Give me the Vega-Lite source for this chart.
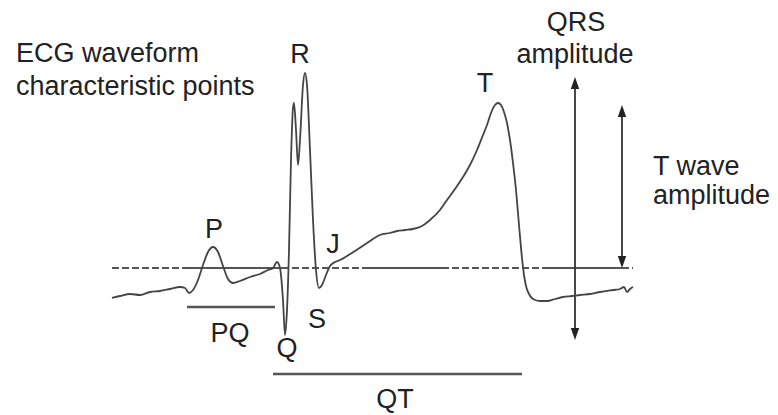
{
  "$schema": "https://vega.github.io/schema/vega-lite/v6.json",
  "width": 778,
  "height": 415,
  "autosize": {"type": "fit", "contains": "padding"},
  "padding": 0,
  "background": "white",
  "config": {"view": {"stroke": null}},
  "datasets": {
    "ecg": [
      {"t": 112, "amp": -30}, {"t": 120, "amp": -28}, {"t": 130, "amp": -26}, {"t": 140, "amp": -27},
      {"t": 150, "amp": -24}, {"t": 160, "amp": -23}, {"t": 170, "amp": -21}, {"t": 180, "amp": -19},
      {"t": 185, "amp": -20}, {"t": 189, "amp": -25}, {"t": 193, "amp": -22}, {"t": 198, "amp": -12},
      {"t": 203, "amp": 3}, {"t": 208, "amp": 16}, {"t": 213, "amp": 21}, {"t": 218, "amp": 16},
      {"t": 223, "amp": 2}, {"t": 228, "amp": -11}, {"t": 233, "amp": -15}, {"t": 240, "amp": -13},
      {"t": 250, "amp": -9}, {"t": 260, "amp": -6}, {"t": 268, "amp": -2}, {"t": 273, "amp": 0},
      {"t": 277, "amp": 6}, {"t": 280, "amp": 0}, {"t": 283, "amp": -32}, {"t": 285, "amp": -67},
      {"t": 287, "amp": -42}, {"t": 289, "amp": 18}, {"t": 291, "amp": 108}, {"t": 293, "amp": 160},
      {"t": 294, "amp": 165}, {"t": 296, "amp": 138}, {"t": 298, "amp": 103}, {"t": 300, "amp": 128},
      {"t": 303, "amp": 183}, {"t": 305, "amp": 195}, {"t": 307, "amp": 183}, {"t": 310, "amp": 118},
      {"t": 313, "amp": 48}, {"t": 316, "amp": -2}, {"t": 319, "amp": -20}, {"t": 322, "amp": -17},
      {"t": 326, "amp": -7}, {"t": 330, "amp": 2}, {"t": 335, "amp": 6}, {"t": 340, "amp": 8},
      {"t": 347, "amp": 12}, {"t": 355, "amp": 17}, {"t": 367, "amp": 25}, {"t": 380, "amp": 33},
      {"t": 390, "amp": 35}, {"t": 397, "amp": 37}, {"t": 405, "amp": 38}, {"t": 413, "amp": 39},
      {"t": 422, "amp": 42}, {"t": 430, "amp": 48}, {"t": 440, "amp": 58}, {"t": 447, "amp": 68},
      {"t": 455, "amp": 79}, {"t": 463, "amp": 91}, {"t": 470, "amp": 103}, {"t": 477, "amp": 118},
      {"t": 483, "amp": 133}, {"t": 487, "amp": 143}, {"t": 491, "amp": 155}, {"t": 495, "amp": 163},
      {"t": 498, "amp": 165}, {"t": 501, "amp": 163}, {"t": 504, "amp": 156}, {"t": 507, "amp": 145},
      {"t": 510, "amp": 128}, {"t": 513, "amp": 105}, {"t": 516, "amp": 78}, {"t": 519, "amp": 43},
      {"t": 522, "amp": 10}, {"t": 524, "amp": -7}, {"t": 526, "amp": -18}, {"t": 529, "amp": -26},
      {"t": 533, "amp": -31}, {"t": 540, "amp": -33}, {"t": 547, "amp": -33}, {"t": 555, "amp": -31},
      {"t": 563, "amp": -29}, {"t": 572, "amp": -28}, {"t": 580, "amp": -27}, {"t": 590, "amp": -26},
      {"t": 600, "amp": -24}, {"t": 613, "amp": -22}, {"t": 620, "amp": -21}, {"t": 624, "amp": -19},
      {"t": 627, "amp": -24}, {"t": 630, "amp": -21}, {"t": 633, "amp": -19}
    ]
  },
  "layer": [
    {
      "data": {"values": [{"t": 112, "t2": 633, "amp": 0}]},
      "mark": {"type": "rule", "stroke": "#555555", "strokeWidth": 2, "strokeDash": [7, 3]},
      "encoding": {
        "x": {"field": "t", "type": "quantitative", "scale": {"domain": [0, 778], "nice": false, "zero": false}, "axis": null},
        "x2": {"field": "t2"},
        "y": {"field": "amp", "type": "quantitative", "scale": {"domain": [-147, 268], "nice": false, "zero": false}, "axis": null}
      }
    },
    {
      "data": {"values": [
        {"t": 185, "t2": 285, "amp": 0},
        {"t": 367, "t2": 445, "amp": 0},
        {"t": 547, "t2": 622, "amp": 0}
      ]},
      "mark": {"type": "rule", "stroke": "#555555", "strokeWidth": 2},
      "encoding": {
        "x": {"field": "t", "type": "quantitative", "scale": {"domain": [0, 778], "nice": false, "zero": false}, "axis": null},
        "x2": {"field": "t2"},
        "y": {"field": "amp", "type": "quantitative", "scale": {"domain": [-147, 268], "nice": false, "zero": false}, "axis": null}
      }
    },
    {
      "data": {"values": [
        {"t": 187, "t2": 275, "amp": -39},
        {"t": 273, "t2": 522, "amp": -106}
      ]},
      "mark": {"type": "rule", "stroke": "#555555", "strokeWidth": 2.5},
      "encoding": {
        "x": {"field": "t", "type": "quantitative", "scale": {"domain": [0, 778], "nice": false, "zero": false}, "axis": null},
        "x2": {"field": "t2"},
        "y": {"field": "amp", "type": "quantitative", "scale": {"domain": [-147, 268], "nice": false, "zero": false}, "axis": null}
      }
    },
    {
      "data": {"values": [
        {"t": 575, "amp": 186, "amp2": -67},
        {"t": 622, "amp": 158, "amp2": 4}
      ]},
      "mark": {"type": "rule", "stroke": "#333333", "strokeWidth": 1.8},
      "encoding": {
        "x": {"field": "t", "type": "quantitative", "scale": {"domain": [0, 778], "nice": false, "zero": false}, "axis": null},
        "y": {"field": "amp", "type": "quantitative", "scale": {"domain": [-147, 268], "nice": false, "zero": false}, "axis": null},
        "y2": {"field": "amp2"}
      }
    },
    {
      "data": {"values": [
        {"t": 575, "amp": 185, "dir": "up"},
        {"t": 575, "amp": -66, "dir": "down"},
        {"t": 622, "amp": 157, "dir": "up"},
        {"t": 622, "amp": 6, "dir": "down"}
      ]},
      "mark": {"type": "point", "filled": true, "fill": "#222222", "opacity": 1, "size": 144, "strokeWidth": 0},
      "encoding": {
        "x": {"field": "t", "type": "quantitative", "scale": {"domain": [0, 778], "nice": false, "zero": false}, "axis": null},
        "y": {"field": "amp", "type": "quantitative", "scale": {"domain": [-147, 268], "nice": false, "zero": false}, "axis": null},
        "shape": {"field": "dir", "type": "nominal", "legend": null,
          "scale": {"domain": ["up", "down"], "range": ["M0,-1L0.7,1L-0.7,1Z", "M0,1L0.7,-1L-0.7,-1Z"]}}
      }
    },
    {
      "data": {"name": "ecg"},
      "mark": {"type": "line", "stroke": "#444444", "strokeWidth": 1.8, "interpolate": "monotone", "strokeJoin": "round"},
      "encoding": {
        "x": {"field": "t", "type": "quantitative", "scale": {"domain": [0, 778], "nice": false, "zero": false}, "axis": null},
        "y": {"field": "amp", "type": "quantitative", "scale": {"domain": [-147, 268], "nice": false, "zero": false}, "axis": null},
        "order": {"field": "t", "type": "quantitative"}
      }
    },
    {
      "data": {"values": [
        {"t": 16, "amp": 206, "label": "ECG waveform"},
        {"t": 16, "amp": 173, "label": "characteristic points"},
        {"t": 653, "amp": 93, "label": "T wave"},
        {"t": 653, "amp": 64, "label": "amplitude"}
      ]},
      "mark": {"type": "text", "align": "left", "baseline": "alphabetic", "font": "Liberation Sans", "fontSize": 27, "fill": "#222222"},
      "encoding": {
        "x": {"field": "t", "type": "quantitative", "scale": {"domain": [0, 778], "nice": false, "zero": false}, "axis": null},
        "y": {"field": "amp", "type": "quantitative", "scale": {"domain": [-147, 268], "nice": false, "zero": false}, "axis": null},
        "text": {"field": "label"}
      }
    },
    {
      "data": {"values": [
        {"t": 300, "amp": 205, "label": "R"},
        {"t": 485, "amp": 176, "label": "T"},
        {"t": 214, "amp": 30, "label": "P"},
        {"t": 333, "amp": 15, "label": "J"},
        {"t": 317, "amp": -60, "label": "S"},
        {"t": 230, "amp": -74, "label": "PQ"},
        {"t": 287, "amp": -89, "label": "Q"},
        {"t": 395, "amp": -140, "label": "QT"},
        {"t": 576, "amp": 237, "label": "QRS"},
        {"t": 575, "amp": 205, "label": "amplitude"}
      ]},
      "mark": {"type": "text", "align": "center", "baseline": "alphabetic", "font": "Liberation Sans", "fontSize": 27, "fill": "#222222"},
      "encoding": {
        "x": {"field": "t", "type": "quantitative", "scale": {"domain": [0, 778], "nice": false, "zero": false}, "axis": null},
        "y": {"field": "amp", "type": "quantitative", "scale": {"domain": [-147, 268], "nice": false, "zero": false}, "axis": null},
        "text": {"field": "label"}
      }
    }
  ]
}
